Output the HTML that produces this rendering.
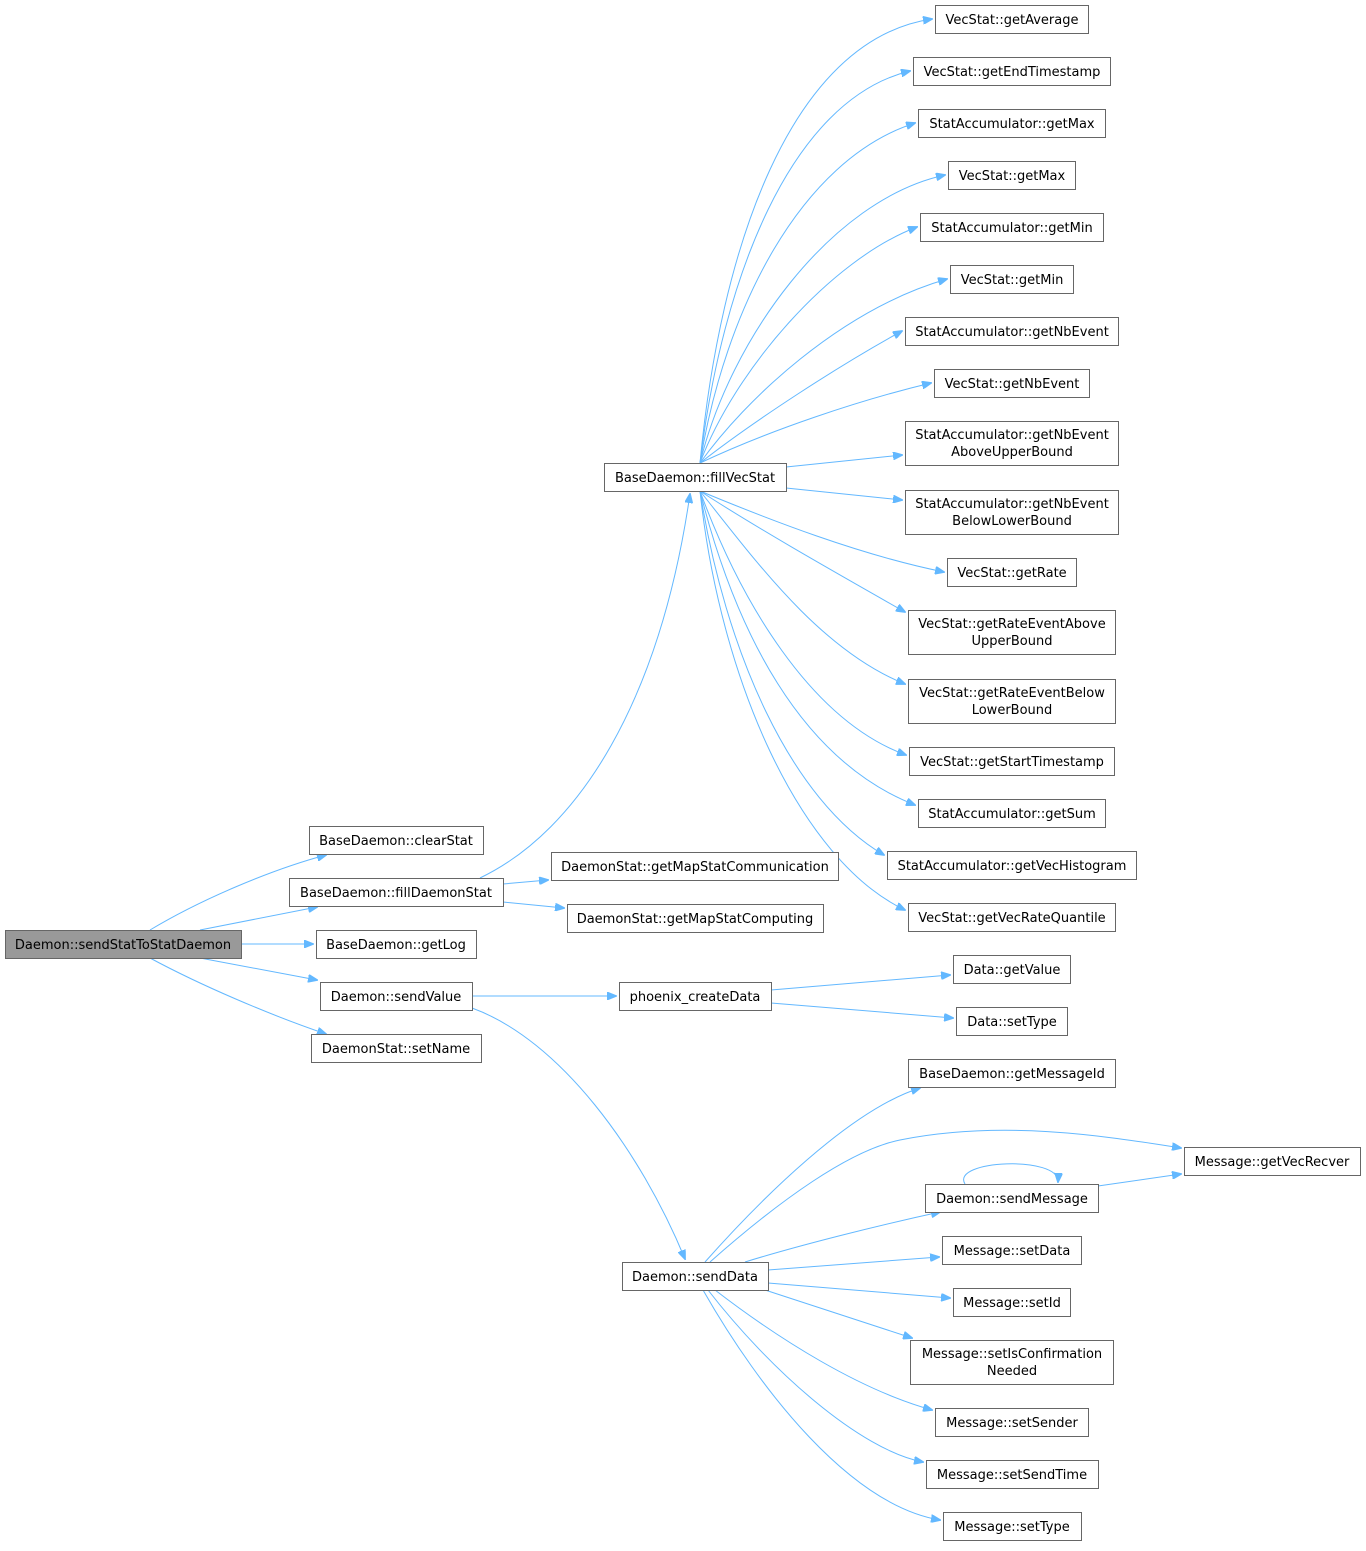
<!DOCTYPE html>
<html><head><meta charset="utf-8"><style>
html,body{margin:0;padding:0;background:#fff}
svg text{font-family:"DejaVu Sans","Liberation Sans",sans-serif;font-size:13px;fill:#000}
</style></head><body>
<svg width="1366" height="1546" viewBox="0 0 1366 1546" xmlns="http://www.w3.org/2000/svg">
<defs><marker id="a" markerWidth="10" markerHeight="8" refX="9" refY="4" orient="auto" markerUnits="userSpaceOnUse"><path d="M0,0 L10,4 L0,8 z" fill="#63b8ff" stroke="#63b8ff"/></marker></defs>
<g fill="none" stroke="#63b8ff" stroke-width="1" marker-end="url(#a)">
<path d="M150,930 C200,900 270,870 326,855"/>
<path d="M200,930 L317,907"/>
<path d="M241,944 L313,944"/>
<path d="M200,958 L317,980"/>
<path d="M150,958 C200,985 270,1015 326,1034"/>
<path d="M480,878 C580,830 660,700 690,494"/>
<path d="M503,884 L548,880"/>
<path d="M503,902 L564,908"/>
<path d="M472,996 L616,996"/>
<path d="M472,1008 C560,1040 640,1150 685,1259"/>
<path d="M771,990 L950,975"/>
<path d="M771,1003 L953,1018"/>
<path d="M700,463 C720,250 790,40 932,19"/>
<path d="M700,463 C722,280 790,100 910,71"/>
<path d="M700,463 C725,310 800,160 915,123"/>
<path d="M700,463 C730,340 830,200 945,175"/>
<path d="M700,463 C735,370 830,260 917,227"/>
<path d="M700,463 C745,400 840,310 947,279"/>
<path d="M700,463 C755,420 840,365 902,331"/>
<path d="M700,463 C770,430 860,400 931,383"/>
<path d="M786,467 L902,455"/>
<path d="M786,488 L902,500"/>
<path d="M700,491 C770,520 860,555 944,572"/>
<path d="M700,491 C760,530 840,575 905,612"/>
<path d="M700,491 C755,560 820,650 905,684"/>
<path d="M700,491 C740,600 810,720 906,755"/>
<path d="M700,491 C735,630 800,760 915,805"/>
<path d="M700,491 C725,650 790,800 884,855"/>
<path d="M700,491 C720,680 800,860 905,910"/>
<path d="M705,1262 C760,1200 850,1110 920,1088"/>
<path d="M710,1262 C780,1200 850,1150 900,1140 C1000,1120 1100,1135 1181,1148"/>
<path d="M745,1262 C800,1245 880,1225 940,1212"/>
<path d="M768,1270 L939,1257"/>
<path d="M768,1283 L950,1298"/>
<path d="M765,1290 L912,1338"/>
<path d="M715,1290 C780,1340 860,1390 932,1410"/>
<path d="M708,1290 C770,1370 860,1450 923,1462"/>
<path d="M703,1290 C760,1390 850,1505 940,1520"/>
<path d="M1098,1186 L1181,1174"/>
<path d="M965,1184 C950,1160 1060,1155 1058,1182"/>
</g>
<g stroke="#666" stroke-width="1" fill="#fff">
<rect x="5.5" y="930.5" width="236" height="28" fill="#999"/>
<rect x="309.5" y="826.5" width="174" height="28"/>
<rect x="289.5" y="878.5" width="214" height="28"/>
<rect x="316.5" y="930.5" width="160" height="28"/>
<rect x="320.5" y="982.5" width="152" height="28"/>
<rect x="311.5" y="1034.5" width="170" height="28"/>
<rect x="604.5" y="463.5" width="182" height="28"/>
<rect x="551.5" y="852.5" width="287" height="28"/>
<rect x="567.5" y="904.5" width="256" height="28"/>
<rect x="619.5" y="982.5" width="152" height="28"/>
<rect x="622.5" y="1262.5" width="146" height="28"/>
<rect x="935.5" y="5.5" width="153" height="28"/>
<rect x="913.5" y="57.5" width="197" height="28"/>
<rect x="918.5" y="109.5" width="187" height="28"/>
<rect x="948.5" y="161.5" width="127" height="28"/>
<rect x="920.5" y="213.5" width="183" height="28"/>
<rect x="950.5" y="265.5" width="123" height="28"/>
<rect x="905.5" y="317.5" width="213" height="28"/>
<rect x="934.5" y="369.5" width="155" height="28"/>
<rect x="905.5" y="421.5" width="213" height="44"/>
<rect x="905.5" y="490.5" width="213" height="44"/>
<rect x="947.5" y="558.5" width="129" height="28"/>
<rect x="908.5" y="610.5" width="207" height="44"/>
<rect x="908.5" y="679.5" width="207" height="44"/>
<rect x="909.5" y="747.5" width="205" height="28"/>
<rect x="918.5" y="799.5" width="187" height="28"/>
<rect x="887.5" y="851.5" width="249" height="28"/>
<rect x="908.5" y="903.5" width="207" height="28"/>
<rect x="953.5" y="955.5" width="117" height="28"/>
<rect x="956.5" y="1007.5" width="111" height="28"/>
<rect x="908.5" y="1059.5" width="207" height="28"/>
<rect x="1184.5" y="1147.5" width="176" height="28"/>
<rect x="925.5" y="1184.5" width="173" height="28"/>
<rect x="942.5" y="1236.5" width="139" height="28"/>
<rect x="953.5" y="1288.5" width="117" height="28"/>
<rect x="910.5" y="1340.5" width="203" height="44"/>
<rect x="935.5" y="1408.5" width="153" height="28"/>
<rect x="926.5" y="1460.5" width="172" height="28"/>
<rect x="943.5" y="1512.5" width="138" height="28"/>
</g>
<g text-anchor="middle">
<text x="123" y="949">Daemon::sendStatToStatDaemon</text>
<text x="396" y="845">BaseDaemon::clearStat</text>
<text x="396" y="897">BaseDaemon::fillDaemonStat</text>
<text x="396" y="949">BaseDaemon::getLog</text>
<text x="396" y="1001">Daemon::sendValue</text>
<text x="396" y="1053">DaemonStat::setName</text>
<text x="695" y="482">BaseDaemon::fillVecStat</text>
<text x="695" y="871">DaemonStat::getMapStatCommunication</text>
<text x="695" y="923">DaemonStat::getMapStatComputing</text>
<text x="695" y="1001">phoenix_createData</text>
<text x="695" y="1281">Daemon::sendData</text>
<text x="1012" y="24">VecStat::getAverage</text>
<text x="1012" y="76">VecStat::getEndTimestamp</text>
<text x="1012" y="128">StatAccumulator::getMax</text>
<text x="1012" y="180">VecStat::getMax</text>
<text x="1012" y="232">StatAccumulator::getMin</text>
<text x="1012" y="284">VecStat::getMin</text>
<text x="1012" y="336">StatAccumulator::getNbEvent</text>
<text x="1012" y="388">VecStat::getNbEvent</text>
<text x="1012" y="439">StatAccumulator::getNbEvent</text>
<text x="1012" y="456">AboveUpperBound</text>
<text x="1012" y="508">StatAccumulator::getNbEvent</text>
<text x="1012" y="525">BelowLowerBound</text>
<text x="1012" y="577">VecStat::getRate</text>
<text x="1012" y="628">VecStat::getRateEventAbove</text>
<text x="1012" y="645">UpperBound</text>
<text x="1012" y="697">VecStat::getRateEventBelow</text>
<text x="1012" y="714">LowerBound</text>
<text x="1012" y="766">VecStat::getStartTimestamp</text>
<text x="1012" y="818">StatAccumulator::getSum</text>
<text x="1012" y="870">StatAccumulator::getVecHistogram</text>
<text x="1012" y="922">VecStat::getVecRateQuantile</text>
<text x="1012" y="974">Data::getValue</text>
<text x="1012" y="1026">Data::setType</text>
<text x="1012" y="1078">BaseDaemon::getMessageId</text>
<text x="1272" y="1166">Message::getVecRecver</text>
<text x="1012" y="1203">Daemon::sendMessage</text>
<text x="1012" y="1255">Message::setData</text>
<text x="1012" y="1307">Message::setId</text>
<text x="1012" y="1358">Message::setIsConfirmation</text>
<text x="1012" y="1375">Needed</text>
<text x="1012" y="1427">Message::setSender</text>
<text x="1012" y="1479">Message::setSendTime</text>
<text x="1012" y="1531">Message::setType</text>
</g>
</svg>
</body></html>
